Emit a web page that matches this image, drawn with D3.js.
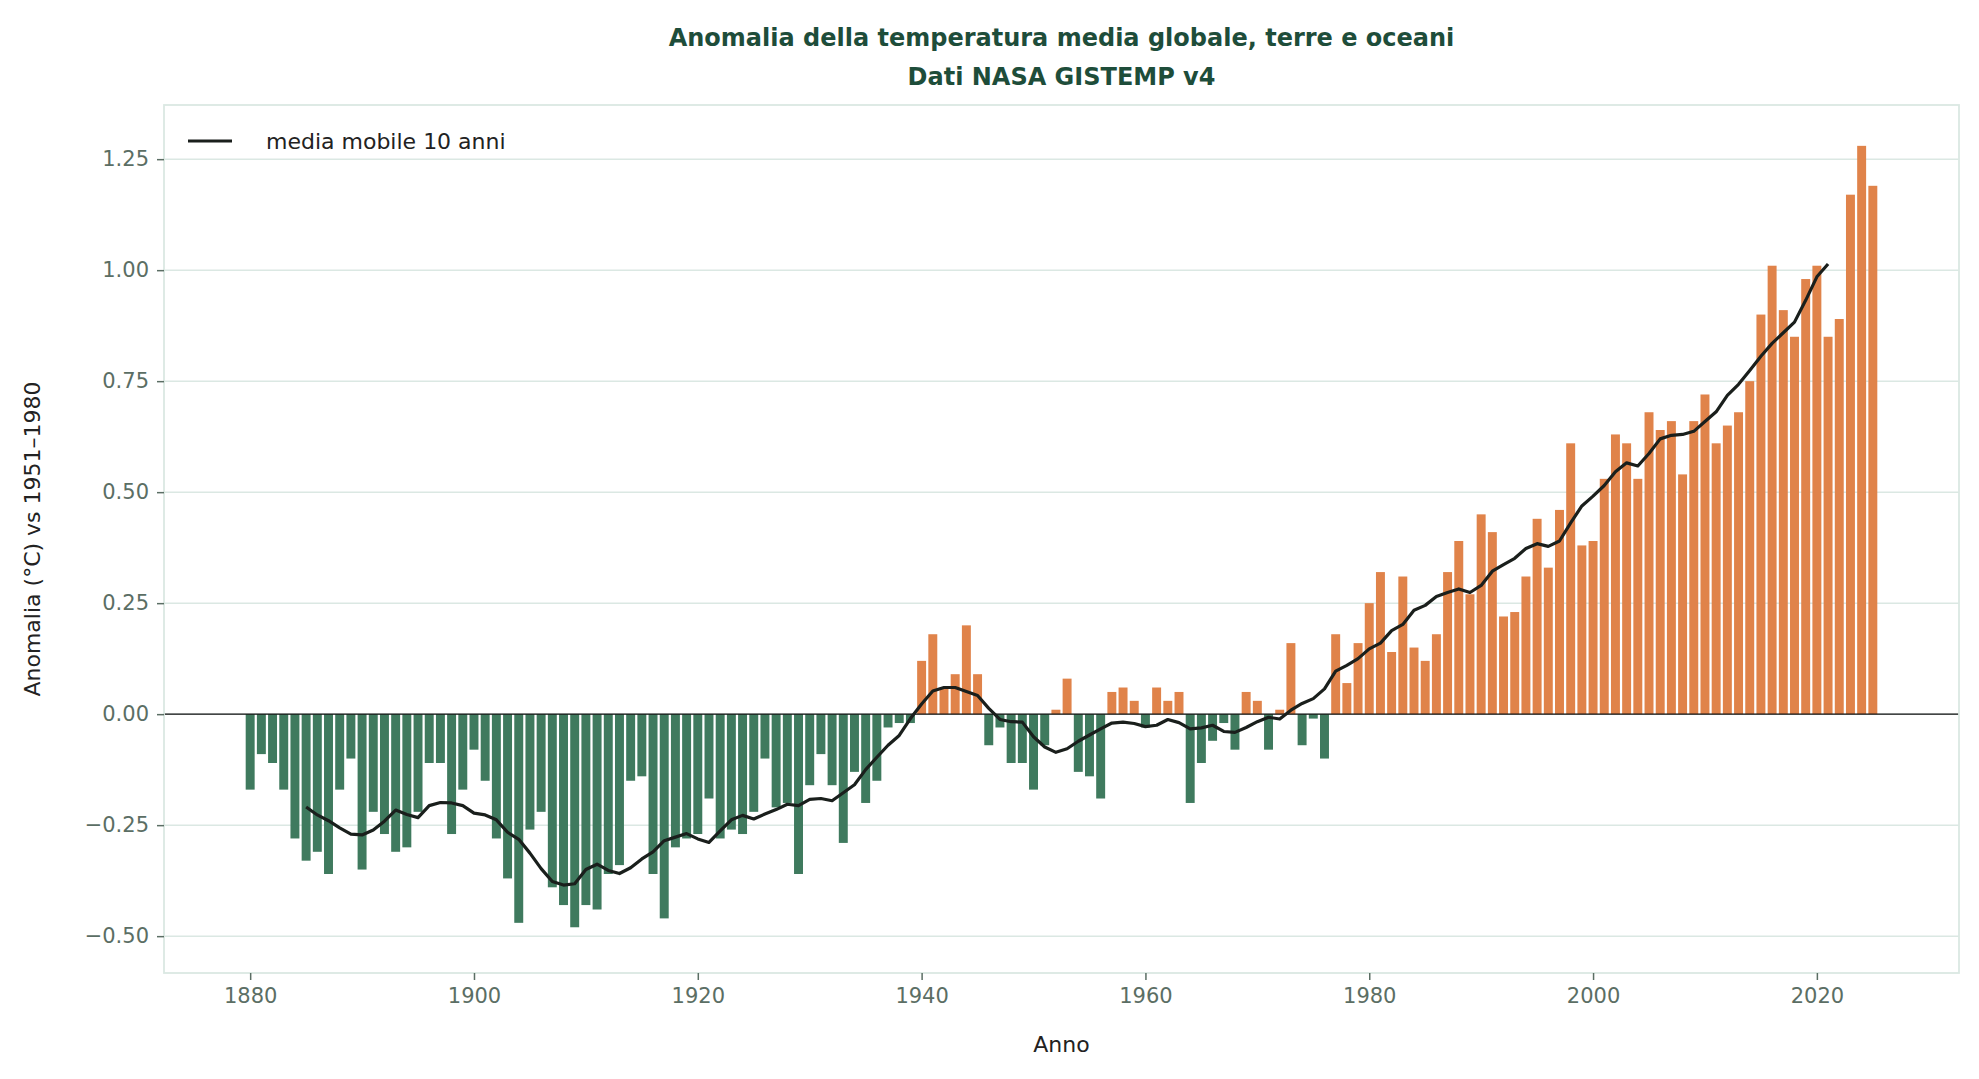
<!DOCTYPE html>
<html><head><meta charset="utf-8">
<script src="https://cdn.jsdelivr.net/npm/d3@7"></script>
<style>body{margin:0;background:#fff}svg{display:block;font-family:"DejaVu Sans",sans-serif}</style>
</head><body>
<svg id="c" width="1979" height="1079"></svg>
<script>
const startYear = 1880;
const anomalies = [-0.17,-0.09,-0.11,-0.17,-0.28,-0.33,-0.31,-0.36,-0.17,-0.10,
-0.35,-0.22,-0.27,-0.31,-0.30,-0.22,-0.11,-0.11,-0.27,-0.17,
-0.08,-0.15,-0.28,-0.37,-0.47,-0.26,-0.22,-0.39,-0.43,-0.48,
-0.43,-0.44,-0.36,-0.34,-0.15,-0.14,-0.36,-0.46,-0.30,-0.28,
-0.27,-0.19,-0.28,-0.26,-0.27,-0.22,-0.10,-0.21,-0.20,-0.36,
-0.16,-0.09,-0.16,-0.29,-0.13,-0.20,-0.15,-0.03,-0.02,-0.02,
0.12,0.18,0.06,0.09,0.20,0.09,-0.07,-0.03,-0.11,-0.11,
-0.17,-0.07,0.01,0.08,-0.13,-0.14,-0.19,0.05,0.06,0.03,
-0.03,0.06,0.03,0.05,-0.20,-0.11,-0.06,-0.02,-0.08,0.05,
0.03,-0.08,0.01,0.16,-0.07,-0.01,-0.10,0.18,0.07,0.16,
0.25,0.32,0.14,0.31,0.15,0.12,0.18,0.32,0.39,0.27,
0.45,0.41,0.22,0.23,0.31,0.44,0.33,0.46,0.61,0.38,
0.39,0.53,0.63,0.61,0.53,0.68,0.64,0.66,0.54,0.66,
0.72,0.61,0.65,0.68,0.75,0.90,1.01,0.91,0.85,0.98,
1.01,0.85,0.89,1.17,1.28,1.19];
const years = anomalies.map((_, i) => startYear + i);
const yTicks = [-0.5,-0.25,0,0.25,0.5,0.75,1.0,1.25];
const xTicks = [1880,1900,1920,1940,1960,1980,2000,2020];

// centered 10-year rolling mean (pandas-style, window 10, center)
const rolling = [];
for (let i = 5; i + 4 < anomalies.length; i++) {
  rolling.push({year: years[i], v: d3.mean(anomalies.slice(i-5, i+5))});
}

const svg = d3.select("#c");
const L=164, R=1959, T=105, B=973;
const x = d3.scaleLinear().domain([1872.3, 2032.7]).range([L, R]);
const y = d3.scaleLinear().domain([-0.583, 1.372]).range([B, T]);
const grid="#dbe8e3", tickCol="#5b6e64";

// grid
svg.append("g").selectAll("line").data(yTicks).join("line")
  .attr("x1",L).attr("x2",R).attr("y1",d=>y(d)).attr("y2",d=>y(d))
  .attr("stroke",grid).attr("stroke-width",1.5);

// bars
const bw = x(0.8)-x(0);
svg.append("g").selectAll("rect").data(years).join("rect")
  .attr("x",(d)=>x(d)-bw/2).attr("width",bw)
  .attr("y",(d,i)=>y(Math.max(0,anomalies[i])))
  .attr("height",(d,i)=>Math.abs(y(anomalies[i])-y(0)))
  .attr("fill",(d,i)=>anomalies[i]>=0?"#e0834a":"#3f7a5e");

// zero line
svg.append("line").attr("x1",L).attr("x2",R).attr("y1",y(0)).attr("y2",y(0))
  .attr("stroke","#111").attr("stroke-width",1.4);

// rolling mean
svg.append("path").datum(rolling)
  .attr("d",d3.line().x(d=>x(d.year)).y(d=>y(d.v)))
  .attr("fill","none").attr("stroke","#1a1f1c").attr("stroke-width",3.2)
  .attr("stroke-linejoin","round");

// frame
svg.append("rect").attr("x",L).attr("y",T).attr("width",R-L).attr("height",B-T)
  .attr("fill","none").attr("stroke",grid).attr("stroke-width",1.8);

// axes
const xa = svg.append("g").attr("transform",`translate(0,${B})`)
  .call(d3.axisBottom(x).tickValues(xTicks).tickFormat(d3.format("d")).tickSize(7).tickPadding(8));
const ya = svg.append("g").attr("transform",`translate(${L},0)`)
  .call(d3.axisLeft(y).tickValues(yTicks).tickFormat(d=>d3.format(".2f")(d).replace("-","−")).tickSize(7).tickPadding(8));
[xa,ya].forEach(a=>{
  a.select(".domain").remove();
  a.selectAll("line").attr("stroke",tickCol).attr("stroke-width",1.5);
  a.selectAll("text").attr("fill",tickCol).style("font-size","21px").style("font-family","DejaVu Sans");
});

// labels
svg.append("text").attr("x",(L+R)/2).attr("y",1052).attr("text-anchor","middle")
  .attr("fill","#222").style("font-size","22px").text("Anno");
svg.append("text").attr("transform",`translate(40,${(T+B)/2}) rotate(-90)`).attr("text-anchor","middle")
  .attr("fill","#222").style("font-size","22px").text("Anomalia (°C) vs 1951–1980");
const tt = svg.append("text").attr("text-anchor","middle").attr("fill","#1e4d3a")
  .style("font-size","24px").style("font-weight","bold");
tt.append("tspan").attr("x",(L+R)/2).attr("y",46).text("Anomalia della temperatura media globale, terre e oceani");
tt.append("tspan").attr("x",(L+R)/2).attr("y",85).text("Dati NASA GISTEMP v4");

// legend
svg.append("line").attr("x1",188).attr("x2",232).attr("y1",141).attr("y2",141)
  .attr("stroke","#1a1f1c").attr("stroke-width",3.2);
svg.append("text").attr("x",266).attr("y",149).attr("fill","#222").style("font-size","22px").text("media mobile 10 anni");
</script>
</body></html>
